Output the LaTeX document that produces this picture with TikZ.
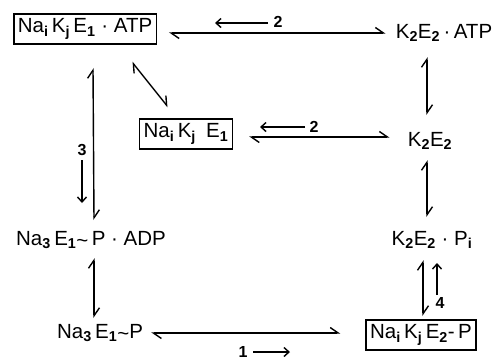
\documentclass[tikz,border=0pt]{standalone}
\usepackage{fontspec}
\setmainfont{Liberation Sans}
\usetikzlibrary{arrows.meta,calc}
\newcommand\lsb[1]{\textsubscript{\bfseries #1}}
\newcommand\tild{\raisebox{-0.2ex}{\textasciitilde}}
\begin{document}
\begin{tikzpicture}[x=1pt,y=-1pt,
  chem/.style={font=\fontsize{20.5}{23}\selectfont, inner sep=0pt},
  boxed/.style={chem, draw, line width=1.4pt, inner xsep=4pt, inner ysep=5pt},
  eq/.style={line width=1.4pt,
    {Straight Barb[harpoon,length=8pt,width=11pt,line width=1.4pt]}-{Straight Barb[harpoon,length=8pt,width=11pt,line width=1.4pt]}},
  fwd/.style={line width=1.4pt, -{Straight Barb[length=5pt,width=9pt,line width=1.4pt]}},
  num/.style={font=\bfseries\fontsize{16}{18}\selectfont, inner sep=0pt}]
\useasboundingbox (0,0) rectangle (493,362);

% species
\node[boxed] (s1) at (85,29)  {Na\lsb{i}\,K\lsb{j}\,E\lsb{1}\;·\;ATP};
\node[chem]  (s2) at (444,33) {K\lsb{2}E\lsb{2}\,·\,ATP};
\node[boxed] (s3) at (186,134) {Na\lsb{i}\,K\lsb{j}\enspace E\lsb{1}};
\node[chem]  (s4) at (430,141) {K\lsb{2}E\lsb{2}};
\node[chem]  (s5) at (91,240) {Na\lsb{3}\,E\lsb{1}\tild\,P\;·\;ADP};
\node[chem]  (s6) at (432,240) {K\lsb{2}E\lsb{2}\;·\;P\lsb{i}};
\node[chem]  (s7) at (100,333) {Na\lsb{3}\,E\lsb{1}\tild P};
\node[boxed] (s8) at (421,335) {Na\lsb{i}\,K\lsb{j}\,E\lsb{2}-\,P};

% step numbers
\node[num] (l2a) at (278,22) {2};
\node[num] (l2b) at (314,127) {2};
\node[num] (l3) at (82,150) {3};
\node[num] (l4) at (440,303) {4};
\node[num] (l1) at (243,352) {1};

% reversible steps
\draw[eq] ($(s1.east |- s2.west)+(12,0)$) -- ($(s2.west)+(-10,0)$);
\draw[eq] ($(s3.east)+(16,3)$) -- ($(s4.west)+(-18,-4)$);
\draw[eq] ($(s7.east)+(8,0)$) -- ($(s8.west |- s7.east)+(-25,0)$);
\draw[eq] ($(s1)+(47,33)$) -- ($(s3)+(-18,-27)$);
\draw[eq] ($(s2)+(-17,24)$) -- ($(s4)+(-3,-26)$);
\draw[eq] ($(s4)+(-3,19)$) -- ($(s6)+(-5,-23)$);
\draw[eq] ($(s6)+(-9,20)$) -- ($(s8)+(2,-19)$);
\draw[eq] ($(s1)+(8,39)$) -- ($(s5)+(3,-20)$);
\draw[eq] ($(s5)+(3,18)$) -- ($(s7)+(-6,-15)$);

% direction of the steps
\draw[fwd] ($(l2a)+(-10,1)$) -- ++(-53,0);
\draw[fwd] ($(l2b)+(-9,0)$) -- ++(-45,0);
\draw[fwd] ($(l3)+(0,10)$) -- ++(0,43);
\draw[fwd] ($(l4)+(-3,-8)$) -- ++(0,-32);
\draw[fwd] ($(l1)+(10,0)$) -- ++(37,0);
\end{tikzpicture}
\end{document}
